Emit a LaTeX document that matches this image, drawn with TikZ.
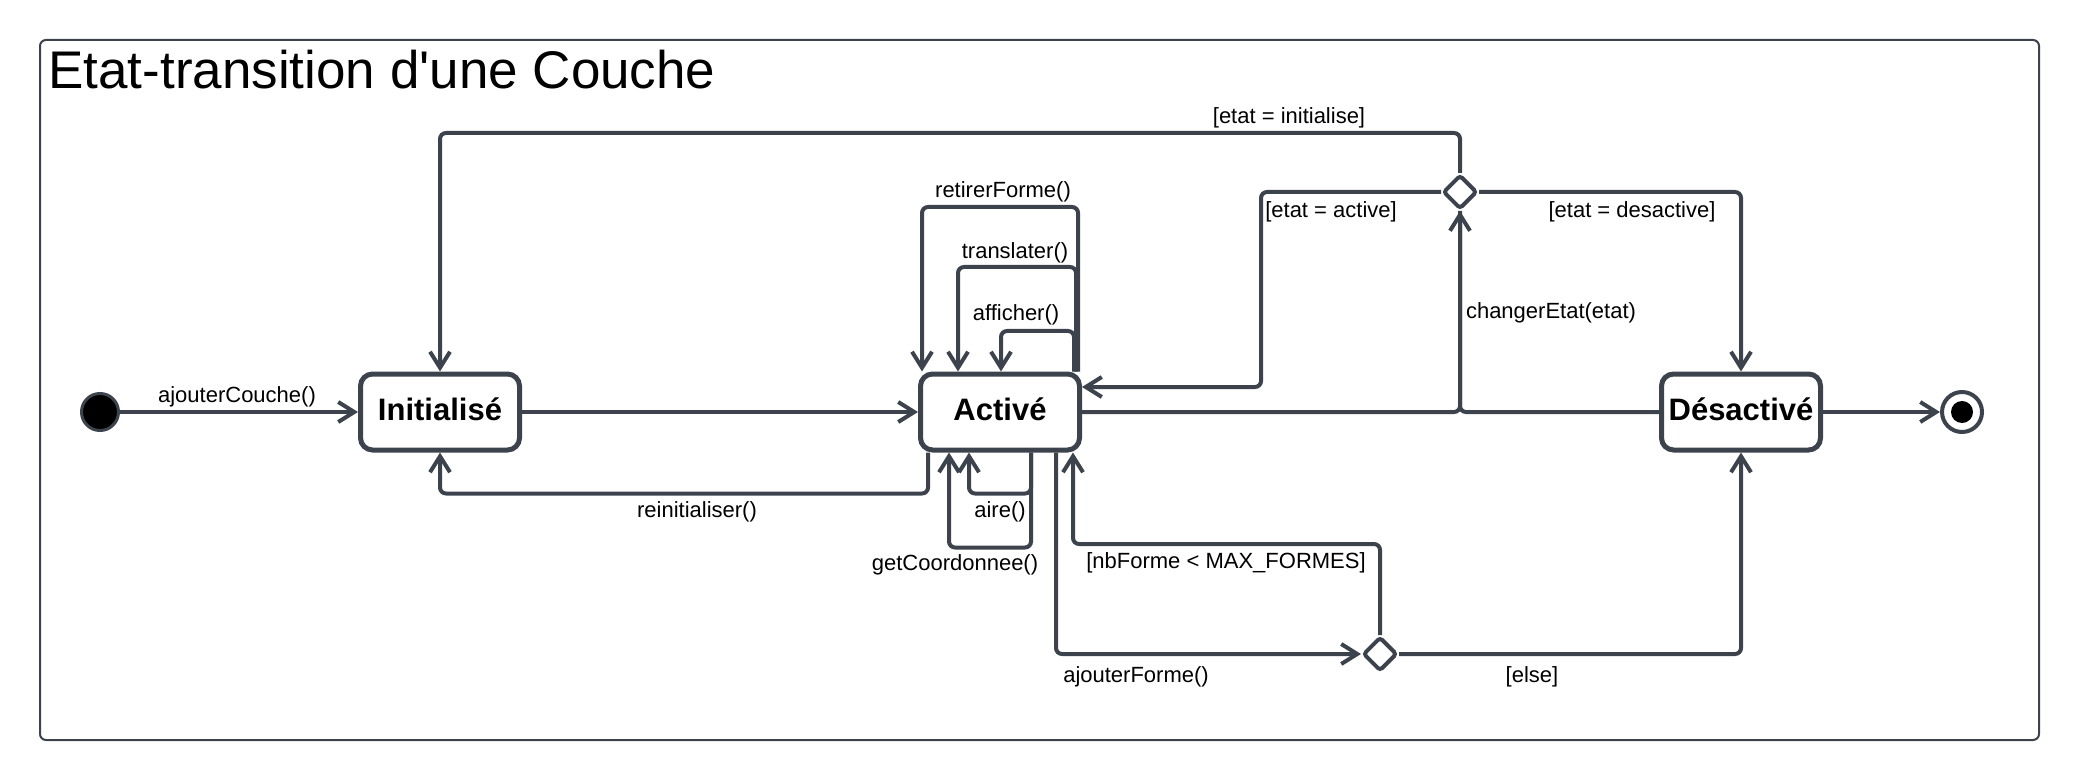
\documentclass[tikz,border=0pt]{standalone}
\usepackage{fontspec}
\setmainfont{Liberation Sans}
\usepackage{tikz}
\usetikzlibrary{arrows.meta,positioning,shapes.geometric}
\usepackage{xcolor}
\definecolor{umlline}{HTML}{3D434C}

\begin{document}
\begin{tikzpicture}[
  x=0.5pt, y=-0.5pt,
  statebox/.style={
    rectangle, draw=umlline, fill=white, line width=2.5pt, rounded corners=6pt,
    minimum width=79.5pt, minimum height=38pt, inner sep=0pt, text depth=3pt,
    font=\fontsize{15.5}{18}\selectfont\bfseries
  },
  startdot/.style={circle, fill=black, draw=umlline, line width=1.5pt, minimum size=18.5pt, inner sep=0pt},
  enddot/.style={circle, fill=white, draw=umlline, line width=2pt, minimum size=20pt, inner sep=0pt},
  choice/.style={diamond, draw=umlline, fill=white, line width=2pt, rounded corners=1.5pt, minimum size=17pt, inner sep=0pt},
  lbl/.style={inner sep=0pt, font=\fontsize{11}{13}\selectfont},
  arr/.style={-{Straight Barb[length=8pt,width=10pt]}, line width=2pt, color=umlline, rounded corners=3pt},
  link/.style={line width=2pt, color=umlline, rounded corners=3pt},
]
  \useasboundingbox (0,0) rectangle (2080,780);

  % Frame and title
  \draw[umlline, line width=1pt, rounded corners=3pt] (40,40) rectangle (2039,740);
  \node[anchor=base west, inner sep=0pt, font=\fontsize{26.5}{30}\selectfont] (title) at (48,89) {Etat-transition d\textquotesingle une Couche};

  % Row: states
  \node[statebox] (init) at (440,412) {Initialisé};
  \node[startdot, left=119pt of init] (start) {};
  \node[statebox, right=198pt of init] (act) {Activé};
  \node[statebox, right=288.5pt of act] (des) {Désactivé};
  \node[enddot, right=58.5pt of des] (end) {};
  \fill (end) circle (5.5pt);

  % Choices
  \node[choice] (chk) at (1460,192) {};
  \node[choice] (nbchk) at (1380,654) {};

  % Arrows
  \draw[arr] (start) -- (init);
  \draw[arr] (init) -- (act);
  \draw[arr] (des) -- (end);
  \draw[arr] (act.east) -| (chk.south);
  \draw[link] (des.west) -| (chk.south);
  \draw[arr] (chk.north) -- ++(0,-40) -| (init.north);
  \draw[arr] (chk.west) -| (1261,387) -- ([yshift=12.5pt]act.east);
  \draw[arr] (chk.east) -| (des.north);
  \draw[arr] ([xshift=39pt]act.north) |- (922,207) -- ([xshift=-39pt]act.north);
  \draw[arr] ([xshift=38pt]act.north) |- (958,267) -- ([xshift=-21pt]act.north);
  \draw[arr] ([xshift=37pt]act.north) |- (1001,331) -- ([xshift=0.5pt]act.north);
  \draw[arr] ([xshift=-36pt]act.south) -- ++(0,41) -| (init.south);
  \draw[arr] ([xshift=15.5pt]act.south) -- ++(0,41) -| ([xshift=-15.5pt]act.south);
  \draw[arr] ([xshift=15.5pt]act.south) -- ++(0,95) -| ([xshift=-25.5pt]act.south);
  \draw[arr] ([xshift=28pt]act.south) |- (nbchk.west);
  \draw[arr] (nbchk.north) -- ++(0,-91) -| ([xshift=36.5pt]act.south);
  \draw[arr] (nbchk.east) -| (des.south);

  % Labels
  \node[lbl] (l-ajc) at (237,397) {ajouterCouche()};
  \node[lbl] (l-rei) at (697,512) {reinitialiser()};
  \node[lbl] (l-ret) at (1003,192) {retirerForme()};
  \node[lbl] (l-tra) at (1015,253) {translater()};
  \node[lbl] (l-aff) at (1016,315) {afficher()};
  \node[lbl] (l-air) at (1000,512) {aire()};
  \node[lbl] (l-get) at (955,565) {getCoordonnee()};
  \node[lbl] (l-nbf) at (1226,563) {[nbForme < MAX\_FORMES]};
  \node[lbl] (l-ajf) at (1136,677) {ajouterForme()};
  \node[lbl] (l-els) at (1532,677) {[else]};
  \node[lbl] (l-chg) at (1551,313) {changerEtat(etat)};
  \node[lbl] (l-ini) at (1289,118) {[etat = initialise]};
  \node[lbl] (l-act) at (1331,212) {[etat = active]};
  \node[lbl] (l-des) at (1632,212) {[etat = desactive]};
\end{tikzpicture}
\end{document}
